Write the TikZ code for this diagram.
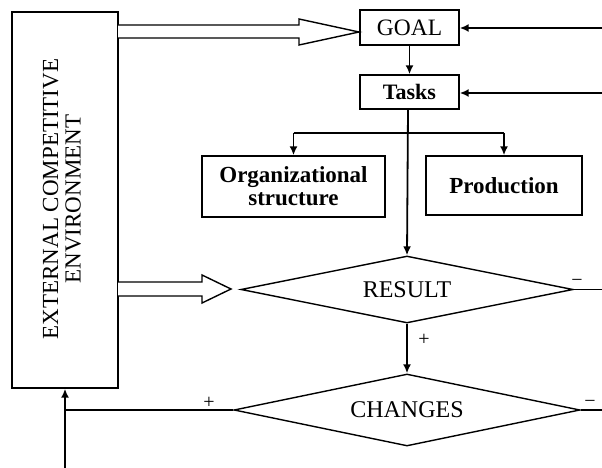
\documentclass[tikz,border=0pt]{standalone}
\usepackage{fontspec}
\setmainfont{Liberation Serif}
\usetikzlibrary{shapes.geometric,arrows.meta}
\begin{document}
\begin{tikzpicture}[x=1pt,y=-1pt,
  box/.style={draw,line width=1.4pt,inner sep=0pt,align=center},
  dia/.style={draw,diamond,shape aspect=5,line width=1.4pt,inner sep=0pt,font=\fontsize{24}{24}\selectfont},
  conn/.style={line width=1.8pt},
  arr/.style={conn,-{Latex[length=9pt,width=8pt]}},
  hollow/.style={draw,line width=1.4pt,fill=white},
  sign/.style={font=\fontsize{20}{20}\selectfont,inner sep=0pt}]
\useasboundingbox (0,0) rectangle (602,468);
% nodes
\node[box,minimum width=106pt,minimum height=376pt] (env) at (65,200) {};
\node[rotate=90,align=center,font=\fontsize{23}{22.5}\selectfont] (envtext) at (62,199) {EXTERNAL COMPETITIVE\\ENVIRONMENT};
\node[box,minimum width=99pt,minimum height=35pt,font=\fontsize{23.5}{24}\selectfont] (goal) at (409.5,27.5) {GOAL};
\node[box,minimum width=99pt,minimum height=34pt,font=\bfseries\fontsize{22}{23}\selectfont] (tasks) at (409.5,92) {Tasks};
\node[box,minimum width=183pt,minimum height=61pt,font=\bfseries\fontsize{23}{23}\selectfont] (org) at (293.5,186.5) {Organizational\\structure};
\node[box,minimum width=156pt,minimum height=59pt,font=\bfseries\fontsize{23}{23}\selectfont] (prod) at (504,185.5) {Production};
\node[dia,minimum width=332pt,minimum height=67pt] (result) at (407,289.5) {RESULT};
\node[dia,minimum width=346pt,minimum height=72pt] (changes) at (407,410) {CHANGES};
% free ends
\coordinate (rgoal) at (602,28);
\coordinate (rtasks) at (602,93);
\coordinate (rres) at (602,289.5);
\coordinate (rchg) at (602,410);
\coordinate (bot) at (65,468);
\coordinate (branch) at (408,133);
% hollow arrows
\path[hollow] (118,25) -- (299,25) -- (299,19) -- (359,32) -- (299,45) -- (299,38) -- (118,38);
\path[hollow] (118,282) -- (202,282) -- (202,275) -- (231,289) -- (202,303) -- (202,296) -- (118,296);
% connectors
\draw[arr] (rgoal) -- (rgoal -| goal.east);
\draw[arr] (rtasks) -- (rtasks -| tasks.east);
\draw[arr] (goal.south) -- (tasks.north);
\draw[arr] (tasks.south -| branch) -- (result.north);
\draw[conn] (branch -| org.north) -- (branch -| prod.north);
\draw[arr] (branch -| org.north) -- (org.north);
\draw[arr] (branch -| prod.north) -- (prod.north);
\draw[conn] (result.east) -- (rres);
\draw[arr] (result.south) -- (changes.north);
\draw[conn] (changes.east) -- (rchg);
\draw[conn] (changes.west) -- (changes.west -| bot);
\draw[arr] (bot) -- (env.south);
% signs
\node[sign] (s1) at (577,283) {\textminus};
\node[sign] (s2) at (424,340) {+};
\node[sign] (s3) at (209,403) {+};
\node[sign] (s4) at (590,404) {\textminus};
\end{tikzpicture}
\end{document}
